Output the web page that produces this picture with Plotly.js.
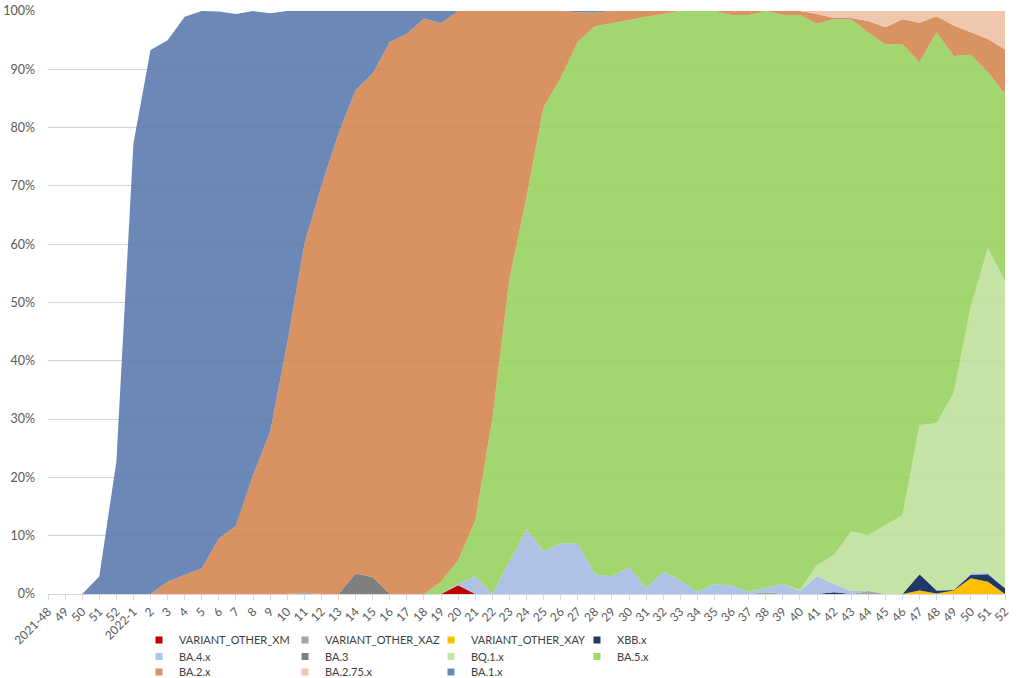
<!DOCTYPE html>
<html><head><meta charset="utf-8">
<script src="https://cdn.plot.ly/plotly-3.0.1.min.js"></script>
<style>html,body{margin:0;padding:0;background:#fff}#chart{width:1024px;height:678px}</style>
</head><body><div id="chart"></div>
<script>
// ---- data (share of sequenced samples, %) ----
const weekLabels = ['2021-48','49','50','51','52','2022-1','2','3','4','5','6','7','8','9','10','11','12','13','14','15','16','17','18','19','20','21','22','23','24','25','26','27','28','29','30','31','32','33','34','35','36','37','38','39','40','41','42','43','44','45','46','47','48','49','50','51','52'];

//                 48 49 50 51 52  1  2  3  4  5  6  7  8  9 10 11 12 13 14 15 16 17 18 19 20  21 22 23 24 25 26 27 28 29 30 31 32 33 34 35 36 37 38 39 40 41 42 43 44 45 46 47  48  49  50  51  52
const XM      = [0, 0, 0, 0, 0, 0, 0, 0, 0, 0, 0, 0, 0, 0, 0, 0, 0, 0, 0, 0, 0, 0, 0, 0, 1.5,0, 0, 0, 0, 0, 0, 0, 0, 0, 0, 0, 0, 0, 0, 0, 0, 0, 0, 0, 0, 0, 0, 0, 0, 0, 0, 0,  0,  0,  0,  0,  0];
const XAZ     = [0, 0, 0, 0, 0, 0, 0, 0, 0, 0, 0, 0, 0, 0, 0, 0.2,0,0, 0, 0, 0, 0, 0, 0, 0,  0, 0, 0, 0, 0, 0, 0, 0, 0, 0, 0, 0, 0, 0, 0, 0, 0, 0.3,0,0, 0, 0, 0, 0.5,0, 0, 0,  0,  0,  0,  0,  0];
const XAY     = [0, 0, 0, 0, 0, 0, 0, 0, 0, 0, 0, 0, 0, 0, 0, 0, 0, 0, 0, 0, 0, 0, 0, 0, 0,  0, 0, 0, 0, 0, 0, 0, 0, 0, 0, 0, 0, 0, 0, 0, 0, 0, 0, 0, 0, 0, 0, 0, 0, 0, 0, 0.6,0.1,0.6,2.7,2.1,0];
const XBB     = [0, 0, 0, 0, 0, 0, 0, 0, 0, 0, 0, 0, 0, 0, 0, 0, 0, 0, 0, 0, 0, 0, 0, 0, 0,  0, 0, 0, 0, 0, 0, 0, 0, 0, 0, 0, 0, 0, 0, 0, 0, 0, 0, 0, 0, 0, 0.3,0,0, 0, 0, 2.8,0.5,0.1,0.6,1.3,1.0];
const BA4     = [0, 0, 0, 0, 0, 0, 0, 0, 0, 0, 0, 0, 0, 0, 0, 0, 0, 0, 0, 0, 0, 0, 0, 0, 0.2,3.0,0,5.5,11.1,7.3,8.7,8.6,3.4,3.0,4.6,1.0,3.8,2.3,0.4,1.7,1.4,0.4,0.7,1.7,0.5,3.1,1.4,0.5,0,0,0,0,0,0,0.3,0.3,0];
const BA3     = [0, 0, 0, 0, 0, 0, 0, 0, 0, 0, 0, 0, 0, 0, 0, 0, 0, 0, 3.5,2.9,0,0,0, 0, 0,  0, 0, 0, 0, 0, 0, 0, 0, 0, 0, 0, 0, 0, 0, 0, 0, 0, 0, 0, 0, 0, 0, 0, 0, 0, 0, 0,  0,  0,  0,  0,  0];
const BQ1     = [0, 0, 0, 0, 0, 0, 0, 0, 0, 0, 0, 0, 0, 0, 0, 0, 0, 0, 0, 0, 0, 0, 0, 0, 0,  0, 0, 0, 0, 0, 0, 0, 0, 0, 0, 0, 0, 0, 0, 0, 0, 0, 0, 0, 0.2,1.9,5.0,10.2,9.6,11.8,13.5,25.6,28.7,33.8,45.7,55.6,52.6];
const BA5     = [0, 0, 0, 0, 0, 0, 0, 0, 0, 0, 0, 0, 0, 0, 0, 0, 0, 0, 0, 0, 0, 0, 0, 2.1,4.1,9.5,30,48.5,56.9,76.2,79.8,86.1,94.0,94.9,93.9,98.0,95.7,97.7,99.6,98.3,97.9,98.9,99.0,97.6,98.6,92.8,91.9,87.9,86.2,82.5,80.8,62.2,67.0,57.8,43.2,30.2,32.2];
const BA2     = [0, 0, 0, 0, 0, 0, 0, 2.1,3.2,4.4,9.5,11.7,20.4,27.8,43,59.8,70,79,82.9,86.4,94.7,96.1,98.7,95.8,94.2,87.5,70,46,32,16.5,11.5,5.1,2.3,2.1,1.5,1.0,0.5,0,0,0,0.7,0.7,0,0.7,0.7,1.7,0.2,0.2,2.0,2.9,4.3,6.8,2.8,5.2,3.8,5.7,7.6];
const BA275   = [0, 0, 0, 0, 0, 0, 0, 0, 0, 0, 0, 0, 0, 0, 0, 0, 0, 0, 0, 0, 0, 0, 0, 0, 0,  0, 0, 0, 0, 0, 0, 0, 0, 0, 0, 0, 0, 0, 0, 0, 0, 0, 0, 0, 0, 0.5,1.2,1.2,1.7,2.8,1.4,2.0,0.9,2.5,3.7,4.8,6.6];
const BA1     = [0, 0, 0, 3, 22.7,77.3,93.3,92.9,95.8,95.6,90.4,87.8,79.6,71.8,57,40,30,21,13.6,10.7,5.3,3.9,1.3,2.1,0,0,0,0,0,0,0,0.2,0.3,0,0,0,0,0,0,0,0,0,0,0,0,0,0,0,0,0,0,0,0,0,0,0,0];

// stacking order, bottom to top
const seriesNames  = ['VARIANT_OTHER_XM','VARIANT_OTHER_XAZ','VARIANT_OTHER_XAY','XBB.x','BA.4.x','BA.3','BQ.1.x','BA.5.x','BA.2.x','BA.2.75.x','BA.1.x'];
const seriesValues = [XM, XAZ, XAY, XBB, BA4, BA3, BQ1, BA5, BA2, BA275, BA1];
const seriesColors = ['#C00000','#A5A5A5','#FFC000','#1F3864','#ADC2E6','#7F7F7F','#C5E3A5','#A2D66E','#D99362','#EEC7AE','#6A88B7'];
const seriesAlpha  = [1, 1, 1, 1, 0.88, 1, 0.88, 0.88, 0.88, 0.88, 0.88];

// legend rows (as laid out under the chart)
const legendRows = [
  ['VARIANT_OTHER_XM','VARIANT_OTHER_XAZ','VARIANT_OTHER_XAY','XBB.x'],
  ['BA.4.x','BA.3','BQ.1.x','BA.5.x'],
  ['BA.2.x','BA.2.75.x','BA.1.x']
];

function tint(hex, a){
  const n = parseInt(hex.slice(1),16);
  const ch = [(n>>16)&255,(n>>8)&255,n&255].map(v => Math.max(0, Math.min(255, Math.round((v-(1-a)*255)/a))));
  return 'rgba('+ch.join(',')+','+a+')';
}

const xIdx = weekLabels.map((_, i) => i);
const FONT = 'Lato, "Open Sans", sans-serif';
const LEGEND_FONT = '"Liberation Sans Narrow", Lato, sans-serif';

const traces = seriesNames.map((nm, k) => ({
  type:'scatter', mode:'lines', name:nm, x:xIdx, y:seriesValues[k],
  stackgroup:'one', line:{width:0, color:seriesColors[k]},
  fillcolor: seriesAlpha[k] < 1 ? tint(seriesColors[k], seriesAlpha[k]) : seriesColors[k],
  showlegend:false, hoverinfo:'x+y+name'
}));

// legend entries (square swatches)
const legendIds = ['legend','legend2','legend3'];
legendRows.forEach((row, r) => {
  row.forEach(nm => {
    const k = seriesNames.indexOf(nm);
    traces.push({type:'scatter', mode:'markers', name:nm, x:[null], y:[null],
      marker:{symbol:'square', size:7, color:seriesColors[k]},
      legend: legendIds[r], showlegend:true, hoverinfo:'skip'});
  });
});

const W = 1024, H = 678, ML = 48, MR = 19, MT = 11, MB = 84;
const plotW = W-ML-MR, plotH = H-MT-MB;
const legendLeftPx = 139, rowCenters = [640, 656.5, 672];
function legendCfg(r){
  return {orientation:'h', x:(legendLeftPx-ML)/plotW, xanchor:'left',
    y:-(rowCenters[r]-14.5-(H-MB))/plotH, yanchor:'top',
    entrywidth:101, entrywidthmode:'pixels', itemwidth:30,
    bgcolor:'rgba(0,0,0,0)', borderwidth:0, traceorder:'normal',
    font:{family:LEGEND_FONT, size:11, color:'#404040'}, itemclick:false, itemdoubleclick:false};
}

const layout = {
  width:W, height:H, paper_bgcolor:'#fff', plot_bgcolor:'#fff',
  margin:{l:ML, r:MR, t:MT, b:MB, autoexpand:false},
  font:{family:FONT, color:'#595959'},
  showlegend:true,
  legend:legendCfg(0), legend2:legendCfg(1), legend3:legendCfg(2),
  xaxis:{range:[0,56], tickmode:'array', tickvals:xIdx, ticktext:weekLabels, tickangle:-45,
    ticks:'outside', ticklen:5, tickcolor:'#D9D9D9', showline:true, linecolor:'#D9D9D9', linewidth:1,
    showgrid:false, zeroline:false, tickfont:{family:FONT, size:12, color:'#595959'}, fixedrange:true},
  yaxis:{range:[0,100], dtick:10, ticksuffix:'%', showgrid:true, gridcolor:'#D4D4D4', gridwidth:1,
    zeroline:false, showline:false, ticks:'', ticklabelstandoff:12,
    tickfont:{family:FONT, size:12.5, color:'#595959'}, fixedrange:true}
};

Plotly.newPlot('chart', traces, layout, {displayModeBar:false, staticPlot:true});
</script>
</body></html>
